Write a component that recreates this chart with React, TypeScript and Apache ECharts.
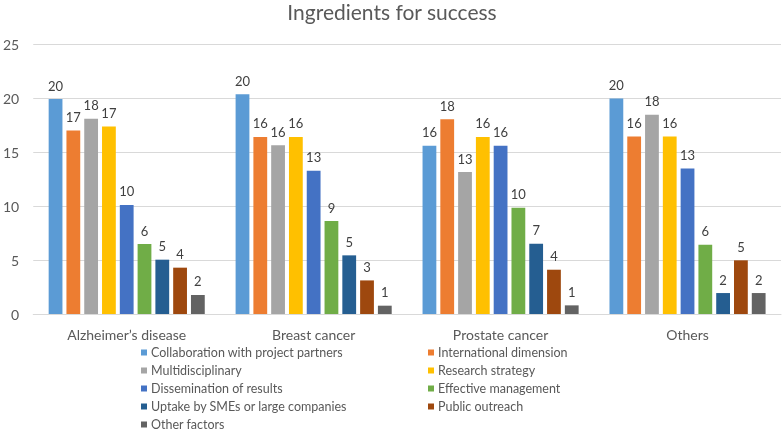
import React, { useEffect, useRef } from "react";
import * as echarts from "echarts";

const categories = ["Alzheimer’s disease", "Breast cancer", "Prostate cancer", "Others"];
const seriesNames = [
  "Collaboration with project partners",
  "International dimension",
  "Multidisciplinary",
  "Research strategy",
  "Dissemination of results",
  "Effective management",
  "Uptake by SMEs or large companies",
  "Public outreach",
  "Other factors",
];
const colors = ["#5B9BD5", "#ED7D31", "#A5A5A5", "#FFC000", "#4472C4", "#70AD47", "#255E91", "#9E480E", "#636363"];

const collaboration = [19.9, 20.35, 15.57, 19.95];
const international = [17.0, 16.4, 18.04, 16.44];
const multidisciplinary = [18.07, 15.63, 13.14, 18.44];
const researchStrategy = [17.36, 16.4, 16.4, 16.44];
const dissemination = [10.1, 13.26, 15.57, 13.48];
const effectiveManagement = [6.48, 8.6, 9.84, 6.41];
const uptake = [5.03, 5.43, 6.5, 1.94];
const publicOutreach = [4.29, 3.11, 4.1, 4.97];
const otherFactors = [1.76, 0.77, 0.8, 1.94];

const seriesValues = [
  collaboration,
  international,
  multidisciplinary,
  researchStrategy,
  dissemination,
  effectiveManagement,
  uptake,
  publicOutreach,
  otherFactors,
];

const yTicks = { min: 0, max: 25, interval: 5 };

const FONT = "Lato";

export default function App() {
  const ref = useRef<HTMLDivElement>(null);
  useEffect(() => {
    if (!ref.current) return;
    const chart = echarts.init(ref.current, undefined, { renderer: "svg" });
    const legendLeft = [0, 2, 4, 6, 8].map((i) => seriesNames[i]);
    const legendRight = [1, 3, 5, 7].map((i) => seriesNames[i]);
    const legendCommon = {
      orient: "vertical" as const,
      top: 346,
      height: 86,
      padding: 0,
      itemWidth: 6,
      itemHeight: 6,
      itemGap: 5,
      icon: "rect",
      textStyle: { fontFamily: FONT, fontSize: 12.5, color: "#595959", lineHeight: 13, padding: [0, 0, 0, -1] },
      selectedMode: false,
    };
    chart.setOption({
      animation: false,
      color: colors,
      title: {
        text: "Ingredients for success",
        left: "center",
        top: 0,
        padding: 0,
        textStyle: { fontFamily: FONT, fontSize: 21, fontWeight: "normal", color: "#595959", lineHeight: 22 },
      },
      legend: [
        { ...legendCommon, left: 141, data: legendLeft },
        { ...legendCommon, left: 428, data: legendRight },
      ],
      grid: { left: 29, right: 3, top: 44, bottom: 118, containLabel: false },
      xAxis: {
        type: "category",
        data: categories,
        axisLine: { lineStyle: { color: "#D9D9D9" } },
        axisTick: { show: false },
        axisLabel: { fontFamily: FONT, fontSize: 14, color: "#595959", margin: 13 },
      },
      yAxis: {
        type: "value",
        min: yTicks.min,
        max: yTicks.max,
        interval: yTicks.interval,
        axisLine: { show: false },
        axisTick: { show: false },
        splitLine: { lineStyle: { color: "#D9D9D9" } },
        axisLabel: { fontFamily: FONT, fontSize: 14, color: "#595959", margin: 14 },
      },
      series: seriesValues.map((vals, i) => ({
        name: seriesNames[i],
        type: "bar",
        data: vals,
        barGap: "29%",
        barCategoryGap: "16.5%",
        label: {
          show: true,
          position: "top",
          distance: 7,
          fontFamily: FONT,
          fontSize: 13,
          color: "#404040",
          formatter: (p: any) => String(Math.round(p.value)),
        },
      })),
    });
    return () => chart.dispose();
  }, []);
  return <div ref={ref} style={{ position: "fixed", left: 0, top: 0, width: 784, height: 432 }} />;
}
